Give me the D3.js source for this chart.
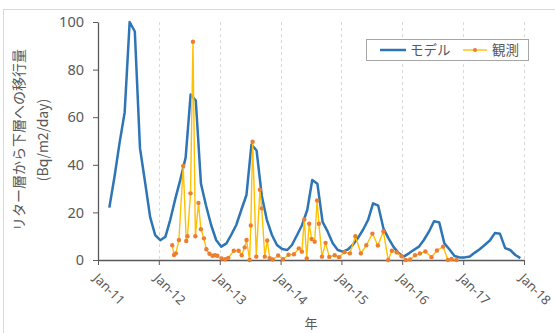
<!DOCTYPE html>
<html>
<head>
<meta charset="utf-8">
<script src="https://cdn.jsdelivr.net/npm/d3@7"></script>
<style>
  body { margin: 0; background: #fff; }
  svg { display: block; font-family: "Noto Sans CJK JP", "Noto Sans", sans-serif; }
</style>
</head>
<body>
<svg id="chart" width="555" height="333"></svg>
<script>
// monthly model output, first value is Mar 2011
const MODEL_START = [2011, 2, 10];
const modelValues = [
  22, 35, 49, 62, 100, 96, 47, 33, 18, 10.5,
  8.3, 9.8, 17, 26, 34, 43, 69.5, 67, 32, 23, 14.7, 8.4,
  5.6, 7, 10.5, 14.7, 21, 27.3, 48.5, 46, 27, 17, 10.5, 6.3,
  4.6, 4.2, 6.3, 10.5, 14.7, 21, 33.6, 32, 16, 12, 7, 4.2,
  3.5, 4.5, 6.3, 9.2, 12.6, 16.8, 23.8, 22.8, 13.3, 9.2, 5.5, 2.9,
  1.4, 2.8, 4.2, 5.6, 8.4, 12, 16.3, 15.8, 7, 4.5, 1.7, 1.1,
  1.1, 1.5, 3, 4.5, 6.3, 8.2, 11.3, 11, 5, 4.2, 2.1, 0.8
];

// observations: sampling time as decimal year
const obsYears = [
  2012.22, 2012.25, 2012.28, 2012.33, 2012.40, 2012.45, 2012.47, 2012.52, 2012.56, 2012.60,
  2012.65, 2012.69, 2012.74, 2012.78, 2012.83, 2012.88, 2012.92, 2012.96,
  2013.03, 2013.09, 2013.14, 2013.23, 2013.31, 2013.36, 2013.41, 2013.44, 2013.49, 2013.51,
  2013.54, 2013.60, 2013.66, 2013.69, 2013.74, 2013.78, 2013.82, 2013.87, 2013.96,
  2014.04, 2014.13, 2014.22, 2014.30, 2014.35, 2014.39, 2014.43, 2014.47, 2014.51, 2014.56,
  2014.60, 2014.63, 2014.68, 2014.74, 2014.80, 2014.89, 2014.96,
  2015.05, 2015.14, 2015.23, 2015.32, 2015.41, 2015.51, 2015.60, 2015.69, 2015.77, 2015.83,
  2015.91, 2015.99,
  2016.06, 2016.13, 2016.21, 2016.29, 2016.38, 2016.48, 2016.57, 2016.67, 2016.75, 2016.81, 2016.89
];
const obsValues = [
  6.2, 2.1, 2.8, 8.4, 39.5, 8, 10, 28, 91.7, 10,
  24, 12.9, 9.1, 4.5, 2.6, 1.8, 2, 1.8,
  0.6, 0.3, 0.9, 3.9, 3.9, 2, 5.3, 8.4, 0, 14.5,
  49.7, 1.4, 29.5, 21.7, 1.4, 8.2, 0.8, 0.2, 1.9,
  0.3, 2.2, 2.4, 4.9, 3.5, 17, 0.7, 15.2, 8.8, 7.7,
  25, 15.2, 1.4, 7.2, 1.3, 2, 1.2,
  3.3, 2.8, 10, 2.8, 6.2, 11.1, 6.1, 12, 0, 3.9,
  3.2, 1.6,
  0, 0.2, 2, 2.7, 3.6, 1.2, 4, 5.6, 0, 0.4, 0
];

const xTickYears = [2011, 2012, 2013, 2014, 2015, 2016, 2017, 2018];
const yTicks = [0, 20, 40, 60, 80, 100];
const seriesNames = ["モデル", "観測"];
const yTitle = ["リター層から下層への移行量", "(Bq/m2/day)"];
const xTitle = "年";

const MODEL_COLOR = "#2e75b6";
const OBS_LINE = "#ffc000";
const OBS_DOT = "#ed7d31";
const TEXT = "#595959";

function decYear(t) {
  const y = Math.floor(t);
  const start = new Date(y, 0, 1), end = new Date(y + 1, 0, 1);
  return new Date(+start + (t - y) * (end - start));
}

const modelData = modelValues.map((v, i) => ({
  date: d3.timeMonth.offset(new Date(...MODEL_START), i), value: v
}));
const obsData = obsYears.map((t, i) => ({ date: decYear(t), value: obsValues[i] }));

const svg = d3.select("#chart");

// chart frame (light border of the original chart area)
svg.append("rect")
  .attr("x", 3.5).attr("y", 9.5)
  .attr("width", 600).attr("height", 400)
  .attr("fill", "none").attr("stroke", "#d9d9d9");

const x = d3.scaleTime()
  .domain([new Date(2011, 0, 1), new Date(2018, 0, 1)])
  .range([98, 524]);
const y = d3.scaleLinear().domain([0, 100]).range([260, 22]);

const tickDates = xTickYears.map(yr => new Date(yr, 0, 1));

// vertical dashed gridlines
svg.append("g")
  .selectAll("line")
  .data(tickDates.slice(1))
  .join("line")
  .attr("x1", d => Math.round(x(d)) + 0.5).attr("x2", d => Math.round(x(d)) + 0.5)
  .attr("y1", y(100)).attr("y2", y(0))
  .attr("stroke", "#d9d9d9").attr("stroke-width", 1)
  .attr("stroke-dasharray", "3,3");

// y axis
const yAxis = svg.append("g")
  .attr("transform", "translate(98,0)")
  .call(d3.axisLeft(y).tickValues(yTicks).tickSize(5).tickSizeOuter(0).tickPadding(9));
yAxis.select(".domain").attr("stroke", "#595959").attr("stroke-width", 1.3);
yAxis.selectAll(".tick line").attr("stroke", "#595959");
yAxis.selectAll("text").attr("fill", TEXT).attr("font-size", "14.5px")
  .attr("font-family", "'Noto Sans', sans-serif");

// x axis
const xAxis = svg.append("g")
  .attr("transform", "translate(0,260)")
  .call(d3.axisBottom(x).tickValues(tickDates).tickFormat(d3.timeFormat("%b-%y"))
    .tickSize(5).tickSizeOuter(0));
xAxis.select(".domain").attr("stroke", "#595959").attr("stroke-width", 1.6);
xAxis.selectAll(".tick line").attr("stroke", "#595959");
xAxis.selectAll("text")
  .attr("fill", TEXT).attr("font-size", "13px")
  .attr("font-family", "'Noto Sans', sans-serif")
  .attr("text-anchor", "start")
  .attr("x", 0).attr("y", 0).attr("dy", 0)
  .attr("transform", "translate(-6,19) rotate(45)");

// model line
svg.append("path")
  .datum(modelData)
  .attr("fill", "none")
  .attr("stroke", MODEL_COLOR)
  .attr("stroke-width", 2.5)
  .attr("stroke-linejoin", "round")
  .attr("d", d3.line().x(d => x(d.date)).y(d => y(d.value)));

// observations
svg.append("path")
  .datum(obsData)
  .attr("fill", "none")
  .attr("stroke", OBS_LINE)
  .attr("stroke-width", 1.4)
  .attr("stroke-linejoin", "round")
  .attr("d", d3.line().x(d => x(d.date)).y(d => y(d.value)));

svg.append("g")
  .selectAll("circle")
  .data(obsData)
  .join("circle")
  .attr("cx", d => x(d.date)).attr("cy", d => y(d.value))
  .attr("r", 2.2)
  .attr("fill", OBS_DOT);

// axis titles
const yt = svg.append("text")
  .attr("transform", "translate(0,140) rotate(-90)")
  .attr("text-anchor", "middle")
  .attr("fill", TEXT).attr("font-size", "14px");
yt.append("tspan").attr("x", 0).attr("y", 24).text(yTitle[0]);
yt.append("tspan").attr("x", 0).attr("y", 48).text(yTitle[1]);

svg.append("text")
  .attr("x", 311).attr("y", 328)
  .attr("text-anchor", "middle")
  .attr("fill", TEXT).attr("font-size", "13px")
  .text(xTitle);

// legend
const lg = svg.append("g").attr("transform", "translate(366,39)");
lg.append("rect")
  .attr("x", 0.5).attr("y", 0.5).attr("width", 162).attr("height", 21)
  .attr("fill", "#fff").attr("stroke", "#a6a6a6");
lg.append("line")
  .attr("x1", 14).attr("x2", 40).attr("y1", 11).attr("y2", 11)
  .attr("stroke", MODEL_COLOR).attr("stroke-width", 2.5);
lg.append("text")
  .attr("x", 44).attr("y", 16)
  .attr("fill", TEXT).attr("font-size", "13.5px")
  .text(seriesNames[0]);
lg.append("line")
  .attr("x1", 97).attr("x2", 121).attr("y1", 11).attr("y2", 11)
  .attr("stroke", OBS_LINE).attr("stroke-width", 1.4);
lg.append("circle")
  .attr("cx", 109).attr("cy", 11).attr("r", 2)
  .attr("fill", OBS_DOT);
lg.append("text")
  .attr("x", 126).attr("y", 16)
  .attr("fill", TEXT).attr("font-size", "13.5px")
  .text(seriesNames[1]);
</script>
</body>
</html>
